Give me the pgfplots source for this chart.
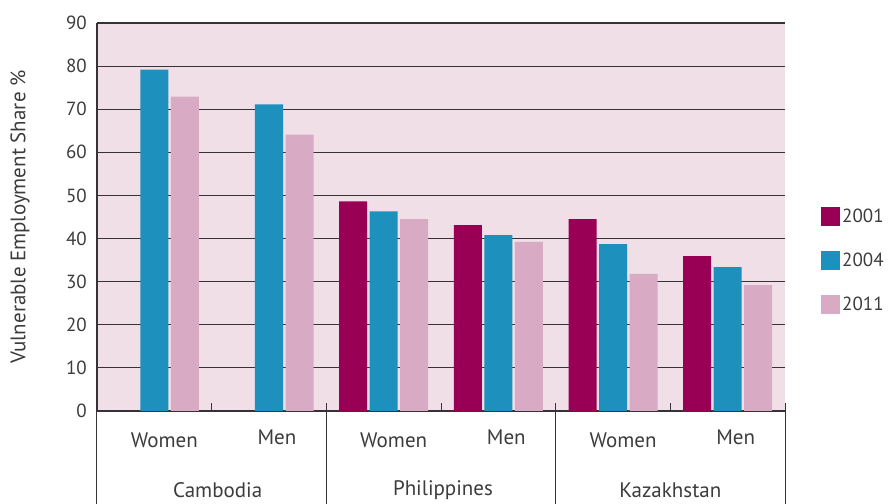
\documentclass[border=0pt]{standalone}
\usepackage{pgfplots}
\pgfplotsset{compat=1.18}
\usepackage{fontspec}
\setmainfont{PT Sans}
\definecolor{cA}{RGB}{153,0,85}
\definecolor{cB}{RGB}{30,144,190}
\definecolor{cC}{RGB}{216,170,196}
\definecolor{bgpink}{RGB}{240,223,230}
\definecolor{gridc}{RGB}{55,50,55}
\definecolor{txt}{RGB}{60,60,60}
\newcommand{\lf}{\fontsize{19}{22}\selectfont}
\newcommand{\cf}{\fontsize{21}{24}\selectfont}

\begin{document}
\begin{tikzpicture}
\begin{axis}[
    name=ax,
    scale only axis,
    width=688pt, height=388pt,
    xmin=-0.5, xmax=5.5, ymin=0, ymax=90,
    ytick={0,10,...,90},
    xtick=\empty,
    axis x line*=bottom, axis y line*=left,
    axis line style={draw=gridc, line width=1.4pt},
    ymajorgrids,
    grid style={draw=gridc, line width=1.1pt},
    major tick length=0pt,
    axis background/.style={fill=bgpink},
    ybar=2.5pt, bar width=28pt,
    /pgf/number format/assume math mode=true,
    yticklabel style={font=\lf, text=txt, anchor=east, inner sep=0pt, xshift=-10pt},
    ylabel={Vulnerable Employment Share \%},
    every axis y label/.style={at={([xshift=-77pt]axis description cs:0,0.5)}, rotate=90, anchor=center, font=\cf, text=txt},
    clip=false,
    legend style={draw=none, fill=none, at={(1,0.392)}, anchor=west, xshift=36pt, yshift=-2pt,
        font=\lf, text=txt, row sep=25pt, inner sep=0pt,
        /tikz/every even column/.append style={column sep=11pt}},
    legend cell align=left,
]
\addplot[fill=cA, draw=none, legend image code/.code={\fill[cA] (0pt,-9.5pt) rectangle (19pt,9.5pt);}]
  coordinates {(2,48.6) (3,43.1) (4,44.5) (5,35.9)};
\addlegendentry{2001}
\addplot[fill=cB, draw=none, legend image code/.code={\fill[cB] (0pt,-9.5pt) rectangle (19pt,9.5pt);}]
  coordinates {(0,79.2) (1,71.1) (2,46.3) (3,40.8) (4,38.7) (5,33.4)};
\addlegendentry{2004}
\addplot[fill=cC, draw=none, legend image code/.code={\fill[cC] (0pt,-9.5pt) rectangle (19pt,9.5pt);}]
  coordinates {(0,72.9) (1,64.1) (2,44.5) (3,39.2) (4,31.8) (5,29.2)};
\addlegendentry{2011}

% category separators below the axis
\draw[gridc, line width=1pt] ([yshift=8pt]axis cs:1.5,0) -- ([yshift=-93pt]axis cs:1.5,0);
\draw[gridc, line width=1pt] ([yshift=8pt]axis cs:3.5,0) -- ([yshift=-93pt]axis cs:3.5,0);
\draw[gridc, line width=1pt] ([yshift=8pt]axis cs:5.5,0) -- ([yshift=-93pt]axis cs:5.5,0);
\draw[gridc, line width=1pt] (axis cs:-0.5,0) -- ([yshift=-93pt]axis cs:-0.5,0);
\draw[gridc, line width=1pt] (axis cs:0.5,0) -- ([yshift=8pt]axis cs:0.5,0);
\draw[gridc, line width=1pt] (axis cs:2.5,0) -- ([yshift=8pt]axis cs:2.5,0);
\draw[gridc, line width=1pt] (axis cs:4.5,0) -- ([yshift=8pt]axis cs:4.5,0);
% category labels
\node[font=\cf, text=txt] at ([xshift=10pt,yshift=-29pt]axis cs:0,0) {Women};
\node[font=\cf, text=txt] at ([xshift=10pt,yshift=-29pt]axis cs:2,0) {Women};
\node[font=\cf, text=txt] at ([xshift=10pt,yshift=-29pt]axis cs:4,0) {Women};
\node[font=\cf, text=txt] at ([xshift=8pt,yshift=-26pt]axis cs:1,0) {Men};
\node[font=\cf, text=txt] at ([xshift=8pt,yshift=-26pt]axis cs:3,0) {Men};
\node[font=\cf, text=txt] at ([xshift=8pt,yshift=-26pt]axis cs:5,0) {Men};
\node[font=\cf, text=txt] at ([xshift=6pt,yshift=-79pt]axis cs:0.5,0) {Cambodia};
\node[font=\cf, text=txt] at ([xshift=2pt,yshift=-79pt]axis cs:2.5,0) {Philippines};
\node[font=\cf, text=txt] at ([yshift=-79pt]axis cs:4.5,0) {Kazakhstan};
\end{axis}
\pgfresetboundingbox
\path ([xshift=-97pt,yshift=-93pt]ax.south west) rectangle ([xshift=105pt,yshift=23pt]ax.north east);
\end{tikzpicture}
\end{document}
